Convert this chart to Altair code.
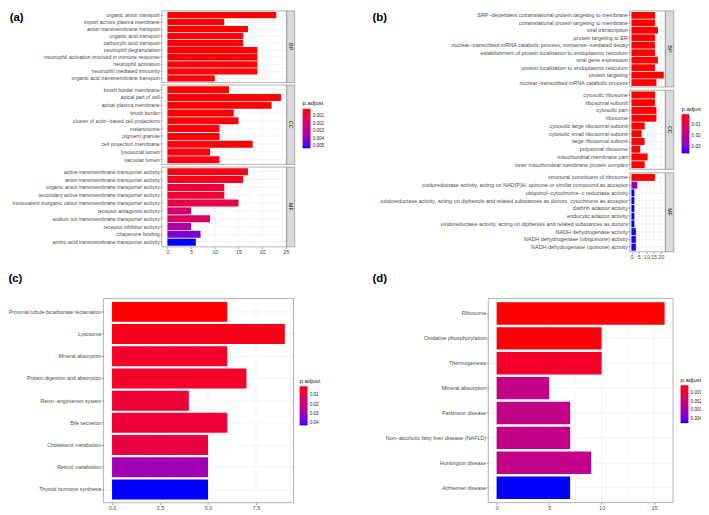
import altair as alt
import pandas as pd

H = 515
W = 709
GRID = "#EBEBEB"
BORDER = "#7F7F7F"
AXTXT = "#4D4D4D"
TICK = "#333333"
MINUS = "\u2212"

# ---------------- data: panel (a) ----------------
a_bp_terms = ["organic anion transport", "import across plasma membrane",
              "anion transmembrane transport", "organic acid transport",
              "carboxylic acid transport", "neutrophil degranulation",
              "neutrophil activation involved in immune response", "neutrophil activation",
              "neutrophil mediated immunity", "organic acid transmembrane transport"]
a_bp_count = [23, 12, 17, 16, 16, 19, 19, 19, 19, 10]
a_bp_padj = [0.00001, 0.00003, 0.00004, 0.00005, 0.00005, 0.00006, 0.00006, 0.00007, 0.00007, 0.0001]

a_cc_terms = ["brush border membrane", "apical part of cell", "apical plasma membrane",
              "brush border", "cluster of actin" + MINUS + "based cell projections", "melanosome",
              "pigment granule", "cell projection membrane", "lysosomal lumen", "vacuolar lumen"]
a_cc_count = [13, 24, 22, 14, 15, 11, 11, 18, 9, 11]
a_cc_padj = [0.00002, 0.00002, 0.00003, 0.00004, 0.00005, 0.00008, 0.00008, 0.0001, 0.00012, 0.00015]

a_mf_terms = ["active transmembrane transporter activity", "anion transmembrane transporter activity",
              "organic anion transmembrane transporter activity",
              "secondary active transmembrane transporter activity",
              "monovalent inorganic cation transmembrane transporter activity",
              "receptor antagonist activity", "sodium ion transmembrane transporter activity",
              "receptor inhibitor activity", "chaperone binding",
              "amino acid transmembrane transporter activity"]
a_mf_count = [17, 16, 12, 12, 15, 5, 9, 5, 7, 6]
a_mf_padj = [0.0002, 0.0003, 0.0008, 0.0008, 0.0011, 0.0020, 0.0017, 0.0032, 0.0044, 0.0053]

a_ticks = [0, 5, 10, 15, 20, 25]
a_minor = [2.5, 7.5, 12.5, 17.5, 22.5]
a_legend_values = [0.001, 0.002, 0.003, 0.004, 0.005]

# ---------------- data: panel (b) ----------------
b_bp_terms = ["SRP" + MINUS + "dependent cotranslational protein targeting to membrane",
              "cotranslational protein targeting to membrane", "viral transcription",
              "protein targeting to ER",
              "nuclear" + MINUS + "transcribed mRNA catabolic process, nonsense" + MINUS + "mediated decay",
              "establishment of protein localization to endoplasmic reticulum",
              "viral gene expression", "protein localization to endoplasmic reticulum",
              "protein targeting", "nuclear" + MINUS + "transcribed mRNA catabolic process"]
b_bp_count = [16, 16, 18, 16, 16, 16, 18, 16, 22, 17]
b_bp_padj = [1e-9, 1e-9, 2e-9, 2e-9, 3e-9, 3e-9, 4e-9, 4e-9, 5e-9, 6e-9]

b_cc_terms = ["cytosolic ribosome", "ribosomal subunit", "cytosolic part", "ribosome",
              "cytosolic large ribosomal subunit", "cytosolic small ribosomal subunit",
              "large ribosomal subunit", "polysomal ribosome", "mitochondrial membrane part",
              "inner mitochondrial membrane protein complex"]
b_cc_count = [16, 16, 17, 17, 9, 7, 9, 6, 11, 9]
b_cc_padj = [1e-9, 1e-9, 2e-9, 2e-9, 3e-9, 3e-9, 4e-9, 5e-9, 1e-6, 2e-6]

b_mf_terms = ["structural constituent of ribosome",
              "oxidoreductase activity, acting on NAD(P)H, quinone or similar compound as acceptor",
              "ubiquinol" + MINUS + "cytochrome" + MINUS + "c reductase activity",
              "oxidoreductase activity, acting on diphenols and related substances as donors, cytochrome as acceptor",
              "clathrin adaptor activity", "endocytic adaptor activity",
              "oxidoreductase activity, acting on diphenols and related substances as donors",
              "NADH dehydrogenase activity", "NADH dehydrogenase (ubiquinone) activity",
              "NADH dehydrogenase (quinone) activity"]
b_mf_count = [16, 4, 2, 2, 2, 2, 2, 3, 3, 3]
b_mf_padj = [1e-8, 0.0265, 0.0355, 0.0355, 0.0355, 0.0355, 0.0355, 0.0352, 0.0352, 0.0352]

b_ticks = [0, 5, 10, 15, 20]
b_minor = [2.5, 7.5, 12.5, 17.5, 22.5]
b_legend_values = [0.01, 0.02, 0.03]

# ---------------- data: panel (c) ----------------
c_terms = ["Proximal tubule bicarbonate reclamation", "Lysosome", "Mineral absorption",
           "Protein digestion and absorption", "Renin" + MINUS + "angiotensin system",
           "Bile secretion", "Cholesterol metabolism", "Retinol metabolism",
           "Thyroid hormone synthesis"]
c_count = [6, 9, 6, 7, 4, 6, 5, 5, 5]
c_padj = [0.0001, 0.002, 0.0043, 0.0045, 0.006, 0.0065, 0.0085, 0.029, 0.0425]
c_ticks = [0, 2.5, 5, 7.5]
c_minor = [1.25, 3.75, 6.25, 8.75]
c_legend_values = [0.01, 0.02, 0.03, 0.04]

# ---------------- data: panel (d) ----------------
d_terms = ["Ribosome", "Oxidative phosphorylation", "Thermogenesis", "Mineral absorption",
           "Parkinson disease", "Non" + MINUS + "alcoholic fatty liver disease (NAFLD)",
           "Huntington disease", "Alzheimer disease"]
d_count = [16, 10, 10, 5, 7, 7, 9, 7]
d_padj = [0.00003, 0.0001, 0.0005, 0.00225, 0.00225, 0.00225, 0.00225, 0.0045]
d_ticks = [0, 5, 10, 15]
d_minor = [2.5, 7.5, 12.5]
d_legend_values = [0.001, 0.002, 0.003, 0.004]


def make_legend(x, y, length, pad, values, fmt):
    # colour is encoded on -p.adjust so that small p-values (red) sit on top of the bar
    return alt.Legend(title="p.adjust", orient="none", legendX=x, legendY=y,
                      direction="vertical", gradientLength=length, gradientThickness=8,
                      values=[-v for v in values],
                      labelExpr="format(-datum.value, '%s')" % fmt,
                      titleFontSize=6, titleFontWeight="normal",
                      titleColor="#1A1A1A", titlePadding=pad, labelFontSize=4.6,
                      labelColor="#1A1A1A", labelOffset=2.2, padding=0,
                      gradientStrokeWidth=0, labelOverlap=False)


def bottom_axis(y_bottom, majors, fmt):
    return alt.Axis(orient="bottom", offset=y_bottom - H, values=majors, format=fmt, title=None,
                    grid=False, domain=False, tickSize=1.7, tickWidth=0.5, tickColor=TICK,
                    labelFontSize=5.5, labelColor=AXTXT, labelPadding=0.8,
                    labelFlush=False, labelOverlap=False)


def panel(terms, counts, padj, xdom, xr, yr, majors, minors, xaxis, legend,
          strip=None, strip_x=None, fs=5.5):
    y0, y1 = yr
    df = pd.DataFrame({"term": terms, "Count": counts, "padj": padj})
    xs = alt.Scale(domain=xdom, range=xr, nice=False, zero=False)
    ys = alt.Scale(range=[y0, y1], paddingInner=0.1, paddingOuter=0.15)

    gmaj = alt.Chart(pd.DataFrame({"v": majors})).mark_rule(color=GRID, strokeWidth=0.6).encode(
        x=alt.X("v:Q", scale=xs, axis=xaxis), y=alt.value(y0), y2=alt.value(y1))
    gmin = alt.Chart(pd.DataFrame({"v": minors})).mark_rule(color=GRID, strokeWidth=0.3).encode(
        x=alt.X("v:Q", scale=xs, axis=xaxis), y=alt.value(y0), y2=alt.value(y1))

    yaxis = alt.Axis(orient="left", offset=-xr[0], title=None, grid=True, gridColor=GRID,
                     gridWidth=0.6, domain=False, tickSize=1.7, tickWidth=0.5, tickColor=TICK,
                     labelFontSize=fs, labelColor=AXTXT, labelPadding=0.8, labelLimit=600,
                     labelOverlap=False)
    bars = alt.Chart(df).transform_calculate(negp="-datum.padj").mark_bar().encode(
        x=alt.X("Count:Q", scale=xs, axis=xaxis),
        y=alt.Y("term:N", sort=terms, scale=ys, axis=yaxis),
        color=alt.Color("negp:Q",
                        scale=alt.Scale(range=["blue", "red"], interpolate="lab",
                                        zero=False, nice=False),
                        legend=legend),
        tooltip=["term", "Count", "padj"])
    one = pd.DataFrame({"s": [strip if strip else ""]})
    border = alt.Chart(one).mark_rect(fillOpacity=0, stroke=BORDER, strokeWidth=0.6).encode(
        x=alt.value(xr[0]), x2=alt.value(xr[1]), y=alt.value(y0), y2=alt.value(y1))
    parts = [gmaj, gmin, bars, border]
    if strip:
        srect = alt.Chart(one).mark_rect(fill="#D9D9D9", stroke=BORDER, strokeWidth=0.6).encode(
            x=alt.value(strip_x[0]), x2=alt.value(strip_x[1]), y=alt.value(y0), y2=alt.value(y1))
        stext = alt.Chart(one).mark_text(angle=90, fontSize=5.5, color="#1A1A1A",
                                         align="center", baseline="middle").encode(
            text="s:N", x=alt.value((strip_x[0] + strip_x[1]) / 2), y=alt.value((y0 + y1) / 2))
        parts += [srect, stext]
    return alt.layer(*parts)


# ---------------- panel (a) ----------------
a_xr = [163.5, 290]
a_dom = [-1.2, 25.2]
a_strip = [290, 298]
a_leg = make_legend(306, 98.5, 40, 2.5, a_legend_values, ".3f")
a_axis = bottom_axis(246.7, a_ticks, "d")
A = alt.layer(
    panel(a_bp_terms, a_bp_count, a_bp_padj, a_dom, a_xr, [8, 80.5], a_ticks, a_minor,
          a_axis, a_leg, "BP", a_strip, fs=5.3),
    panel(a_cc_terms, a_cc_count, a_cc_padj, a_dom, a_xr, [83, 163.3], a_ticks, a_minor,
          a_axis, a_leg, "CC", a_strip, fs=5.3),
    panel(a_mf_terms, a_mf_count, a_mf_padj, a_dom, a_xr, [166, 246.7], a_ticks, a_minor,
          a_axis, a_leg, "MF", a_strip, fs=5.3),
).resolve_scale(y="independent")

# ---------------- panel (b) ----------------
b_xr = [637, 673]
b_dom = [-1.1, 23.1]
b_strip = [673, 681.5]
b_leg = make_legend(689.3, 104.5, 39.6, 2, b_legend_values, ".2f")
b_axis = bottom_axis(251.7, b_ticks, "d")
B = alt.layer(
    panel(b_bp_terms, b_bp_count, b_bp_padj, b_dom, b_xr, [8, 85], b_ticks, b_minor,
          b_axis, b_leg, "BP", b_strip),
    panel(b_cc_terms, b_cc_count, b_cc_padj, b_dom, b_xr, [88.3, 168.3], b_ticks, b_minor,
          b_axis, b_leg, "CC", b_strip),
    panel(b_mf_terms, b_mf_count, b_mf_padj, b_dom, b_xr, [171.7, 251.7], b_ticks, b_minor,
          b_axis, b_leg, "MF", b_strip),
).resolve_scale(y="independent")

# ---------------- panels (c), (d) ----------------
C = panel(c_terms, c_count, c_padj, [-0.45, 9.45], [104.5, 296.8], [299, 505.5], c_ticks, c_minor,
          bottom_axis(505.5, c_ticks, ".1f"),
          make_legend(303, 379.3, 39.6, 2.4, c_legend_values, ".2f"), fs=5.25)
D = panel(d_terms, d_count, d_padj, [-0.8, 16.8], [493.8, 680.7], [299, 505.4], d_ticks, d_minor,
          bottom_axis(505.4, d_ticks, "d"),
          make_legend(688.3, 378, 38.3, 2.7, d_legend_values, ".3f"))


def tag(label, x, y):
    return alt.Chart(pd.DataFrame({"t": [label]})).mark_text(
        fontSize=11.5, fontWeight="bold", color="#000000", align="center", baseline="middle"
    ).encode(text="t:N", x=alt.value(x), y=alt.value(y))


chart = alt.layer(
    A, B, C, D,
    tag("(a)", 16.7, 15.5), tag("(b)", 384, 15), tag("(c)", 15.5, 279.5), tag("(d)", 384, 279),
).resolve_scale(
    x="independent", y="independent", color="independent"
).properties(
    width=W, height=H, autosize="none",
    padding={"left": -8, "top": -8, "right": 0, "bottom": 0},
    background="white",
).configure(font="Liberation Sans").configure_view(strokeWidth=0)

chart.save("out.html", embed_options={"renderer": "svg", "actions": False})
